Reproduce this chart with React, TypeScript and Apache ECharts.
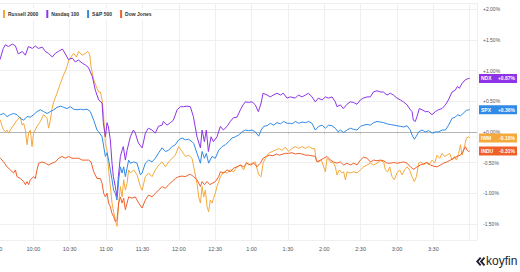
import React, { useEffect, useRef } from "react";
import * as echarts from "echarts";

// minutes after 9:30, % change
const ndx: [number, number][] = [[0,1.05],[2.8,1.20],[5.2,1.36],[6.9,1.42],[9.4,1.39],[12.7,1.43],[15.2,1.40],[17.6,1.27],[20.9,1.31],[23.4,1.25],[25.9,1.39],[29.2,1.36],[31.6,1.40],[34.1,1.36],[37.4,1.38],[39.9,1.31],[42.4,1.28],[45.7,1.22],[48.1,1.28],[50.6,1.31],[53.9,1.35],[56.4,1.27],[58.9,1.18],[62.2,1.20],[64.6,1.14],[67.1,1.17],[70.4,1.12],[72.9,1.09],[75.4,1.05],[78.7,0.90],[81.1,0.68],[83.9,0.52],[86.7,0.47],[87.7,0.15],[89.4,-0.08],[90.8,0.15],[91.9,0.08],[93.5,-0.13],[94.9,-0.51],[96.0,-0.73],[97.6,-0.89],[99.0,-1.06],[100.1,-0.73],[101.8,-0.40],[103.2,-0.30],[104.2,-0.24],[105.9,-0.46],[107.3,-0.30],[110.0,-0.08],[112.5,0.03],[114.1,-0.02],[116.6,-0.18],[119.7,-0.26],[120.7,-0.18],[122.4,-0.02],[124.9,0.06],[127.9,0.03],[130.6,-0.02],[133.1,0.09],[136.2,0.11],[137.2,0.17],[140.3,0.11],[143.0,0.15],[145.5,0.19],[148.6,0.36],[151.3,0.41],[153.8,0.41],[156.8,0.42],[159.5,0.41],[162.0,0.25],[165.0,-0.08],[167.8,-0.26],[169.2,0.03],[171.1,-0.16],[172.7,0.03],[174.4,-0.32],[176.6,-0.08],[178.5,-0.16],[181.5,-0.08],[184.3,0.09],[186.7,0.03],[189.8,0.09],[192.5,0.17],[195.0,0.23],[198.0,0.24],[200.8,0.36],[203.0,0.44],[204.9,0.49],[207.4,0.48],[210.4,0.49],[213.1,0.44],[215.6,0.33],[217.9,0.47],[219.5,0.63],[222.8,0.60],[225.5,0.57],[228.0,0.60],[231.0,0.63],[233.8,0.60],[236.2,0.63],[239.3,0.55],[242.0,0.57],[246.1,0.55],[248.6,0.60],[251.7,0.57],[254.4,0.60],[256.9,0.63],[259.9,0.57],[262.6,0.49],[265.1,0.55],[268.2,0.52],[270.9,0.57],[273.4,0.55],[276.4,0.57],[279.1,0.49],[280.5,0.41],[283.3,0.44],[285.7,0.38],[288.8,0.45],[291.5,0.49],[294.0,0.48],[297.0,0.45],[299.8,0.52],[302.2,0.55],[305.3,0.57],[308.0,0.57],[310.5,0.65],[313.5,0.67],[316.3,0.65],[318.7,0.65],[321.8,0.60],[324.5,0.63],[327.0,0.60],[330.0,0.55],[332.8,0.52],[335.2,0.49],[338.3,0.44],[341.0,0.36],[342.4,0.33],[343.5,0.19],[345.1,0.17],[346.5,0.25],[348.4,0.38],[350.7,0.36],[353.4,0.33],[355.9,0.33],[358.9,0.28],[361.6,0.33],[364.1,0.36],[367.2,0.38],[369.9,0.44],[372.4,0.52],[375.4,0.65],[378.1,0.68],[379.8,0.74],[381.4,0.71],[383.7,0.79],[386.4,0.85],[388.9,0.87],[390,0.87]];

const spx: [number, number][] = [[0,0.25],[2.8,0.28],[5.5,0.30],[8.3,0.25],[11.0,0.28],[13.7,0.30],[16.5,0.28],[19.3,0.22],[22.0,0.19],[24.8,0.25],[27.5,0.24],[30.2,0.28],[33.0,0.33],[35.8,0.36],[38.5,0.33],[41.3,0.30],[44.0,0.33],[46.8,0.36],[49.5,0.40],[52.3,0.42],[55.0,0.40],[57.8,0.38],[60.5,0.41],[63.2,0.37],[66.0,0.36],[68.8,0.37],[71.5,0.36],[74.3,0.37],[77.0,0.33],[79.8,0.19],[82.5,0.03],[83.9,0.00],[86.7,-0.08],[89.4,-0.40],[90.8,-0.34],[92.1,-0.46],[93.5,-0.62],[94.9,-0.78],[96.2,-0.95],[97.6,-1.00],[99.0,-1.11],[100.4,-0.78],[101.8,-0.57],[103.2,-0.67],[104.5,-0.57],[105.9,-0.73],[108.6,-0.46],[110.0,-0.51],[112.8,-0.49],[115.5,-0.51],[118.3,-0.70],[119.7,-0.67],[122.4,-0.51],[125.1,-0.46],[127.9,-0.49],[130.6,-0.43],[133.4,-0.34],[136.2,-0.26],[138.9,-0.32],[141.6,-0.30],[144.4,-0.24],[147.1,-0.21],[149.9,-0.13],[152.7,-0.10],[155.4,-0.13],[158.1,-0.12],[160.9,-0.16],[162.3,-0.19],[165.0,-0.35],[167.8,-0.51],[169.2,-0.32],[171.1,-0.43],[172.7,-0.35],[174.6,-0.51],[177.4,-0.40],[180.1,-0.43],[182.9,-0.30],[185.7,-0.24],[188.4,-0.21],[191.1,-0.16],[193.9,-0.10],[196.7,-0.08],[199.4,-0.05],[202.2,0.00],[204.9,0.03],[207.6,0.02],[210.4,0.03],[213.1,0.00],[215.9,-0.07],[217.9,0.03],[220.0,0.09],[222.8,0.10],[225.5,0.14],[228.3,0.11],[231.0,0.15],[233.8,0.13],[236.5,0.17],[239.3,0.14],[242.0,0.14],[243.4,0.13],[246.1,0.17],[248.9,0.14],[251.7,0.16],[254.4,0.15],[257.1,0.17],[259.9,0.14],[262.6,0.03],[265.4,0.09],[268.2,0.11],[270.9,0.06],[273.6,0.11],[276.4,0.10],[279.1,0.06],[281.4,0.00],[283.3,0.03],[286.0,-0.01],[288.8,0.03],[291.5,0.06],[294.3,0.04],[297.0,0.03],[299.8,0.09],[302.5,0.11],[305.3,0.12],[308.0,0.11],[310.8,0.15],[313.5,0.17],[316.3,0.16],[319.0,0.15],[321.8,0.13],[324.5,0.12],[327.3,0.11],[330.0,0.10],[332.8,0.09],[335.5,0.08],[338.3,0.10],[341.0,0.03],[342.4,-0.05],[344.3,-0.12],[346.0,-0.07],[347.9,0.00],[350.7,0.03],[353.4,0.00],[356.1,0.02],[358.9,-0.02],[361.6,0.00],[364.4,0.00],[367.2,0.03],[369.9,0.03],[372.6,0.11],[375.4,0.22],[378.1,0.24],[380.0,0.28],[382.3,0.26],[384.5,0.30],[387.2,0.35],[389.1,0.36],[390,0.36]];

const iwm: [number, number][] = [[0,0.25],[2.8,0.19],[4.2,0.09],[5.5,0.03],[6.9,0.00],[8.3,0.03],[9.6,-0.02],[11.0,0.03],[13.7,0.11],[16.5,0.19],[19.3,0.24],[20.7,0.11],[22.0,0.14],[23.4,0.03],[24.8,-0.21],[26.1,-0.02],[27.5,0.03],[28.9,-0.24],[30.2,-0.02],[33.0,0.09],[35.8,0.17],[38.5,0.28],[41.3,0.22],[42.6,0.06],[44.0,0.19],[45.4,0.38],[46.8,0.49],[49.5,0.63],[52.3,0.79],[55.0,0.93],[57.8,1.06],[59.1,1.17],[61.1,1.22],[63.2,1.28],[65.5,1.22],[67.4,1.31],[70.2,1.25],[72.9,1.28],[74.8,1.31],[76.4,1.27],[77.6,1.06],[79.8,0.85],[82.5,0.71],[83.9,0.65],[85.3,0.65],[86.7,0.52],[88.0,0.25],[89.4,-0.19],[90.8,-0.30],[92.1,-0.62],[93.5,-0.89],[94.9,-1.16],[96.2,-1.30],[97.6,-1.43],[99.0,-1.54],[100.4,-1.16],[101.8,-0.89],[103.2,-1.06],[104.5,-0.78],[105.9,-0.95],[107.3,-0.84],[108.6,-0.62],[110.0,-0.67],[112.8,-0.62],[115.5,-0.70],[118.3,-0.89],[119.7,-0.95],[122.4,-0.73],[125.1,-0.67],[127.9,-0.73],[130.6,-0.62],[133.4,-0.54],[136.2,-0.49],[138.9,-0.57],[141.6,-0.49],[144.4,-0.43],[147.1,-0.38],[149.9,-0.24],[152.7,-0.32],[155.4,-0.40],[158.1,-0.38],[160.9,-0.43],[162.3,-0.57],[165.0,-0.84],[166.4,-1.06],[167.8,-1.16],[169.2,-0.89],[170.5,-1.06],[171.9,-0.95],[173.3,-1.22],[174.6,-1.30],[176.0,-1.11],[177.4,-1.16],[178.7,-1.08],[180.1,-1.00],[181.5,-0.89],[182.9,-0.81],[184.3,-0.73],[187.0,-0.65],[189.8,-0.67],[192.5,-0.62],[195.2,-0.65],[198.0,-0.57],[200.8,-0.54],[203.5,-0.62],[205.7,-0.49],[207.6,-0.54],[210.4,-0.51],[213.1,-0.49],[215.9,-0.70],[217.9,-0.73],[219.5,-0.51],[221.4,-0.43],[224.1,-0.35],[226.9,-0.32],[229.6,-0.30],[232.4,-0.27],[235.2,-0.30],[237.9,-0.25],[240.6,-0.32],[243.4,-0.27],[246.1,-0.24],[248.9,-0.27],[251.7,-0.24],[254.4,-0.27],[257.1,-0.24],[259.9,-0.27],[262.1,-0.27],[263.2,-0.46],[265.4,-0.49],[267.6,-0.46],[269.5,-0.57],[270.9,-0.65],[272.3,-0.43],[275.0,-0.49],[277.7,-0.51],[279.1,-0.57],[280.5,-0.70],[282.4,-0.62],[284.7,-0.67],[286.0,-0.65],[287.4,-0.78],[288.8,-0.65],[291.5,-0.67],[294.3,-0.65],[297.0,-0.67],[299.8,-0.62],[302.5,-0.57],[305.3,-0.54],[308.0,-0.51],[310.8,-0.54],[313.5,-0.51],[316.3,-0.47],[319.0,-0.49],[320.4,-0.62],[322.3,-0.65],[324.0,-0.57],[325.9,-0.73],[327.8,-0.78],[330.0,-0.67],[332.2,-0.62],[334.2,-0.70],[336.1,-0.62],[338.3,-0.57],[340.4,-0.62],[342.4,-0.73],[344.3,-0.81],[346.0,-0.73],[347.9,-0.51],[349.8,-0.49],[352.0,-0.54],[354.2,-0.49],[356.1,-0.54],[358.9,-0.46],[361.1,-0.51],[363.0,-0.38],[365.2,-0.43],[367.2,-0.35],[369.1,-0.40],[371.3,-0.38],[373.5,-0.35],[375.4,-0.46],[377.3,-0.40],[379.0,-0.46],[380.9,-0.35],[382.3,-0.21],[383.7,-0.38],[385.6,-0.24],[387.3,-0.10],[389.1,-0.08],[390,-0.10]];

const indu: [number, number][] = [[0,-0.40],[2.8,-0.43],[5.5,-0.49],[8.3,-0.57],[11.0,-0.62],[13.7,-0.67],[15.2,-0.62],[16.5,-0.73],[19.3,-0.76],[22.0,-0.81],[23.4,-0.86],[24.8,-0.81],[26.1,-0.86],[27.5,-0.78],[30.2,-0.73],[31.6,-0.76],[33.0,-0.62],[34.4,-0.51],[37.2,-0.49],[39.9,-0.51],[42.6,-0.54],[45.4,-0.51],[48.1,-0.49],[50.9,-0.43],[53.7,-0.40],[56.4,-0.43],[59.1,-0.40],[61.9,-0.43],[64.7,-0.43],[67.4,-0.43],[70.2,-0.46],[72.9,-0.46],[75.6,-0.46],[77.6,-0.49],[79.8,-0.65],[82.5,-0.76],[85.3,-0.76],[86.7,-0.84],[88.0,-1.00],[89.4,-1.06],[90.8,-1.00],[92.1,-1.16],[93.5,-1.22],[94.9,-1.33],[96.2,-1.38],[97.6,-1.46],[99.0,-1.43],[100.4,-1.16],[101.8,-1.06],[103.2,-1.16],[104.5,-1.08],[105.9,-1.27],[107.3,-1.16],[108.6,-1.06],[111.4,-1.08],[114.1,-1.06],[116.9,-1.16],[119.7,-1.24],[122.4,-1.11],[125.1,-1.03],[127.9,-1.06],[130.6,-1.00],[133.4,-0.95],[136.2,-0.89],[138.9,-0.92],[141.6,-0.86],[144.4,-0.81],[147.1,-0.76],[149.9,-0.73],[152.7,-0.72],[155.4,-0.73],[158.1,-0.70],[159.5,-0.69],[162.3,-0.73],[165.0,-0.78],[167.8,-0.89],[169.2,-0.81],[171.1,-0.86],[173.3,-0.81],[175.5,-0.86],[177.4,-0.84],[180.1,-0.81],[182.9,-0.73],[184.3,-0.65],[187.0,-0.67],[189.8,-0.62],[192.5,-0.65],[195.2,-0.59],[198.0,-0.57],[200.8,-0.54],[203.5,-0.57],[206.3,-0.51],[209.0,-0.54],[211.8,-0.51],[214.5,-0.57],[217.3,-0.51],[219.5,-0.43],[222.2,-0.40],[224.9,-0.38],[227.7,-0.39],[230.5,-0.36],[233.2,-0.38],[236.0,-0.36],[237.9,-0.35],[240.6,-0.35],[243.4,-0.34],[246.1,-0.36],[248.9,-0.35],[251.7,-0.36],[254.4,-0.38],[257.1,-0.38],[259.9,-0.39],[262.6,-0.40],[264.0,-0.49],[266.8,-0.46],[269.5,-0.43],[272.3,-0.40],[275.0,-0.46],[277.7,-0.49],[280.5,-0.51],[283.3,-0.49],[286.0,-0.54],[288.8,-0.51],[291.5,-0.54],[294.3,-0.51],[297.0,-0.54],[299.8,-0.46],[302.5,-0.41],[305.3,-0.43],[308.0,-0.49],[310.8,-0.46],[313.5,-0.47],[316.3,-0.46],[319.0,-0.47],[321.8,-0.51],[324.5,-0.51],[327.3,-0.50],[330.0,-0.51],[332.8,-0.50],[335.5,-0.49],[338.3,-0.51],[341.0,-0.57],[343.8,-0.61],[346.5,-0.57],[349.3,-0.54],[352.0,-0.52],[354.8,-0.50],[357.5,-0.54],[360.3,-0.56],[363.0,-0.57],[365.8,-0.54],[368.5,-0.51],[371.3,-0.49],[374.0,-0.46],[376.8,-0.43],[379.5,-0.40],[382.3,-0.38],[384.5,-0.32],[386.4,-0.24],[387.8,-0.30],[389.1,-0.32],[390,-0.31]];

const seriesNames = ["Russell 2000", "Nasdaq 100", "S&P 500", "Dow Jones"];
const tickers = ["IWM", "NDX", "SPX", "INDU"];
const seriesData = [iwm, ndx, spx, indu];
const colors = ["#f5a93c", "#8d34e6", "#2f8ae8", "#f0602a"];
const xMin = 0;
const xMax = 396;
const lastLabelledMinute = 360;
const yMin = -1.77;
const yMax = 2.1;

const FONT = "'Liberation Sans', Arial, sans-serif";

function fmtTime(v: number): string {
  if (v % 30 !== 0 || v > lastLabelledMinute) return "";
  const total = 9 * 60 + 30 + v;
  let h = Math.floor(total / 60);
  const m = total % 60;
  if (h > 12) h -= 12;
  return `${h}:${m < 10 ? "0" + m : m}`;
}

function fmtPct(v: number): string {
  if (Math.abs(v * 2 - Math.round(v * 2)) > 1e-6) return "";
  const r = Math.round(v * 2) / 2;
  return (r >= 0 ? "+" : "-") + Math.abs(r).toFixed(2) + "%";
}

function fmtLast(v: number): string {
  return (v >= 0 ? "+" : "-") + Math.abs(v).toFixed(2) + "%";
}

echarts.graphic.registerShape(
  "koyfinLogo",
  echarts.graphic.extendPath(
    "M4.2 0 L0 4.8 L4.2 9.6 L5.6 8.2 L2.7 4.8 L5.6 1.4 Z M8.2 0 L4.0 4.8 L8.2 9.6 L9.6 8.2 L6.7 4.8 L9.6 1.4 Z",
    {}
  ) as any
);

export default function App() {
  const ref = useRef<HTMLDivElement>(null);
  useEffect(() => {
    if (!ref.current) return;
    const chart = echarts.init(ref.current, undefined, { renderer: "svg" });
    const series: any[] = seriesNames.map((name, i) => {
      const data = seriesData[i];
      const last = data[data.length - 1][1];
      const s: any = {
        name,
        type: "line",
        data,
        showSymbol: false,
        symbol: "none",
        lineStyle: { width: 1, color: colors[i] },
        itemStyle: { color: colors[i] },
        z: 3,
        markPoint: {
          silent: true,
          symbol: "rect",
          symbolSize: [38, 9],
          symbolOffset: [21, 0],
          itemStyle: { color: colors[i] },
          label: {
            show: true,
            position: "inside",
            formatter: `{t|${tickers[i]}}{v|${fmtLast(last)}}`,
            rich: {
              t: { width: 17, align: "left", fontSize: 5, fontWeight: "bold", color: "#fff", fontFamily: FONT },
              v: { width: 17, align: "right", fontSize: 5, fontWeight: "bold", color: "#fff", fontFamily: FONT },
            },
          },
          data: [{ coord: [xMax, last] }],
        },
      };
      if (i === 0) {
        s.markLine = {
          silent: true,
          symbol: "none",
          label: { show: false },
          lineStyle: { color: "#b4b4b4", type: "solid", width: 1 },
          data: [{ yAxis: 0 }],
          z: 1,
        };
      }
      return s;
    });
    chart.setOption({
      animation: false,
      backgroundColor: "#ffffff",
      textStyle: { fontFamily: FONT },
      grid: {
        left: -3,
        right: 43,
        top: 3,
        bottom: 31.5,
        containLabel: false,
        outerBoundsMode: "none",
      },
      legend: {
        data: seriesNames.map((n, i) => ({ name: n, itemStyle: { color: colors[i] } })),
        left: 1,
        top: 8,
        icon: "rect",
        itemWidth: 2,
        itemHeight: 8,
        itemGap: 8,
        itemStyle: { borderWidth: 0 },
        textStyle: { fontSize: 5, fontWeight: "bold", color: "#333", fontFamily: FONT, padding: [0, 0, 0, -2] },
        backgroundColor: "#ffffff",
        padding: [2, 2, 2, 2],
        selectedMode: false,
      },
      xAxis: {
        type: "value",
        min: xMin,
        max: xMax,
        interval: 30,
        axisLine: { show: true, lineStyle: { color: "#c8c8c8", width: 1 } },
        axisTick: { show: true, length: 2, lineStyle: { color: "#c8c8c8" } },
        axisLabel: { formatter: fmtTime, fontSize: 5.5, color: "#555", margin: 5, fontFamily: FONT, showMaxLabel: false, showMinLabel: true, hideOverlap: false },
        splitLine: { show: true, lineStyle: { color: "#efefef", width: 1 } },
      },
      yAxis: {
        type: "value",
        position: "right",
        min: yMin,
        max: yMax,
        splitNumber: 8,
        axisLine: { show: true, lineStyle: { color: "#c8c8c8", width: 1 } },
        axisTick: { show: true, length: 3, lineStyle: { color: "#9a9a9a" } },
        axisLabel: { formatter: fmtPct, fontSize: 5, color: "#555", margin: 6, fontFamily: FONT },
        splitLine: { show: true, lineStyle: { color: "#efefef", width: 1 } },
      },
      series,
      graphic: [
        {
          type: "koyfinLogo",
          x: 476,
          y: 257,
          scaleX: 0.95,
          scaleY: 0.95,
          style: { fill: "#1f1f2e" },
        },
        {
          type: "text",
          x: 486,
          y: 255,
          style: { text: "koyfin", fill: "#1f1f2e", font: `500 12px ${FONT}` },
        },
      ],
    });
    return () => chart.dispose();
  }, []);
  return (
    <div
      ref={ref}
      style={{ position: "fixed", left: 0, top: 0, width: 520, height: 272, background: "#fff" }}
    />
  );
}
